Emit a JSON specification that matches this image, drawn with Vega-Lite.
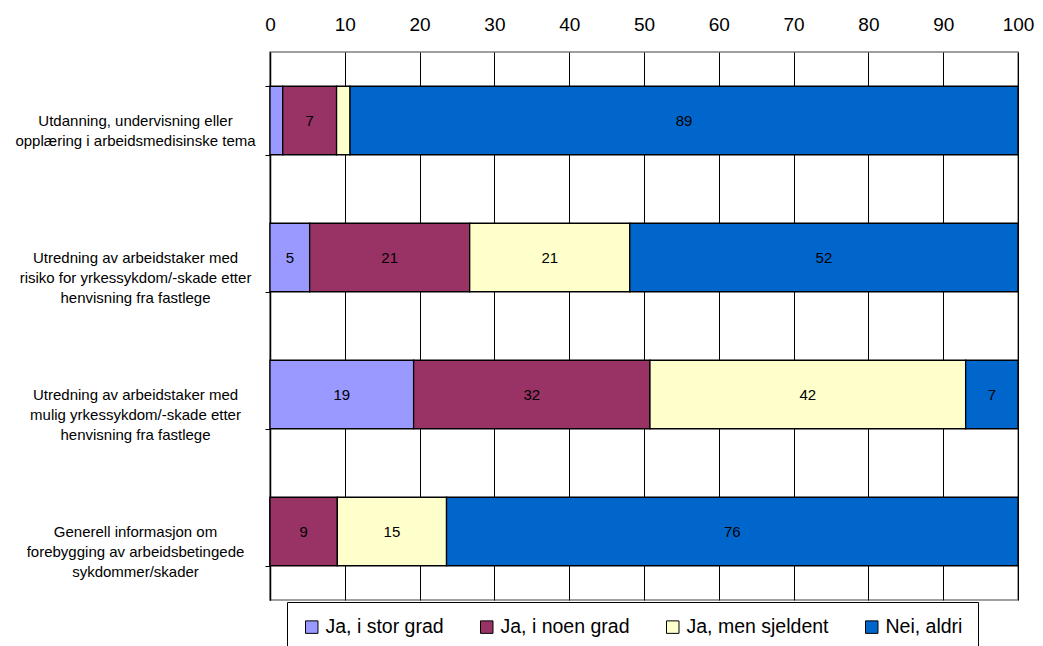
{
  "$schema": "https://vega.github.io/schema/vega-lite/v6.json",
  "autosize": {"type": "none"},
  "width": 748,
  "height": 548,
  "padding": {"left": 270, "top": 52, "right": 25, "bottom": 46},
  "background": "white",
  "config": {
    "font": "Liberation Sans",
    "view": {"stroke": "#808080", "strokeWidth": 1.5}
  },
  "data": {
    "values": [
      {"cat": "Utdanning, undervisning eller|opplæring i arbeidsmedisinske tema", "resp": "Ja, i stor grad", "k": 1, "value": 1.7},
      {"cat": "Utdanning, undervisning eller|opplæring i arbeidsmedisinske tema", "resp": "Ja, i noen grad", "k": 2, "value": 7.2},
      {"cat": "Utdanning, undervisning eller|opplæring i arbeidsmedisinske tema", "resp": "Ja, men sjeldent", "k": 3, "value": 1.8},
      {"cat": "Utdanning, undervisning eller|opplæring i arbeidsmedisinske tema", "resp": "Nei, aldri", "k": 4, "value": 89.3},
      {"cat": "Utredning av arbeidstaker med|risiko for yrkessykdom/-skade etter|henvisning fra fastlege", "resp": "Ja, i stor grad", "k": 1, "value": 5.3},
      {"cat": "Utredning av arbeidstaker med|risiko for yrkessykdom/-skade etter|henvisning fra fastlege", "resp": "Ja, i noen grad", "k": 2, "value": 21.4},
      {"cat": "Utredning av arbeidstaker med|risiko for yrkessykdom/-skade etter|henvisning fra fastlege", "resp": "Ja, men sjeldent", "k": 3, "value": 21.4},
      {"cat": "Utredning av arbeidstaker med|risiko for yrkessykdom/-skade etter|henvisning fra fastlege", "resp": "Nei, aldri", "k": 4, "value": 51.9},
      {"cat": "Utredning av arbeidstaker med|mulig yrkessykdom/-skade etter|henvisning fra fastlege", "resp": "Ja, i stor grad", "k": 1, "value": 19.2},
      {"cat": "Utredning av arbeidstaker med|mulig yrkessykdom/-skade etter|henvisning fra fastlege", "resp": "Ja, i noen grad", "k": 2, "value": 31.6},
      {"cat": "Utredning av arbeidstaker med|mulig yrkessykdom/-skade etter|henvisning fra fastlege", "resp": "Ja, men sjeldent", "k": 3, "value": 42.2},
      {"cat": "Utredning av arbeidstaker med|mulig yrkessykdom/-skade etter|henvisning fra fastlege", "resp": "Nei, aldri", "k": 4, "value": 7.0},
      {"cat": "Generell informasjon om|forebygging av arbeidsbetingede|sykdommer/skader", "resp": "Ja, i stor grad", "k": 1, "value": 0},
      {"cat": "Generell informasjon om|forebygging av arbeidsbetingede|sykdommer/skader", "resp": "Ja, i noen grad", "k": 2, "value": 9.0},
      {"cat": "Generell informasjon om|forebygging av arbeidsbetingede|sykdommer/skader", "resp": "Ja, men sjeldent", "k": 3, "value": 14.6},
      {"cat": "Generell informasjon om|forebygging av arbeidsbetingede|sykdommer/skader", "resp": "Nei, aldri", "k": 4, "value": 76.4}
    ]
  },
  "transform": [
    {"stack": "value", "groupby": ["cat"], "sort": [{"field": "k", "order": "ascending"}], "as": ["v0", "v1"]},
    {"calculate": "(datum.v0 + datum.v1) / 2", "as": "mid"}
  ],
  "encoding": {
    "y": {
      "field": "cat",
      "type": "nominal",
      "sort": null,
      "title": null,
      "scale": {"paddingInner": 0.5, "paddingOuter": 0.25},
      "axis": {
        "labelExpr": "split(datum.label, '|')",
        "labelAlign": "center",
        "labelBaseline": "middle",
        "labelPadding": 130,
        "labelFontSize": 15,
        "labelLineHeight": 20,
        "labelColor": "black",
        "labelLimit": 400,
        "tickBand": "extent",
        "tickSize": 5,
        "tickColor": "black",
        "domainColor": "black",
        "domainWidth": 1.5,
        "grid": false
      }
    }
  },
  "layer": [
    {
      "mark": {"type": "bar", "stroke": "black", "strokeWidth": 1.3},
      "encoding": {
        "x": {
          "field": "v0",
          "type": "quantitative",
          "title": null,
          "scale": {"domain": [0, 100], "nice": false},
          "axis": {
            "orient": "top",
            "values": [0, 10, 20, 30, 40, 50, 60, 70, 80, 90, 100],
            "grid": true,
            "gridColor": "black",
            "gridWidth": 1,
            "gridOpacity": 1,
            "domain": false,
            "ticks": false,
            "labelFontSize": 19,
            "labelPadding": 18,
            "labelColor": "black",
            "labelFlush": false
          }
        },
        "x2": {"field": "v1"},
        "color": {
          "field": "resp",
          "type": "nominal",
          "scale": {
            "domain": ["Ja, i stor grad", "Ja, i noen grad", "Ja, men sjeldent", "Nei, aldri"],
            "range": ["#9999FF", "#993366", "#FFFFCC", "#0066CC"]
          },
          "legend": {
            "title": null,
            "orient": "none",
            "direction": "horizontal",
            "legendX": 17,
            "legendY": 550,
            "padding": 15,
            "strokeColor": "black",
            "fillColor": "white",
            "symbolType": "square",
            "symbolSize": 156,
            "symbolStrokeColor": "black",
            "symbolStrokeWidth": 1,
            "symbolOpacity": 1,
            "labelFont": "Liberation Sans",
            "labelFontSize": 19.5,
            "labelColor": "black",
            "labelOffset": 4,
            "columnPadding": 33,
            "labelLimit": 300
          }
        }
      }
    },
    {
      "transform": [{"filter": "datum.value >= 4"}],
      "mark": {"type": "text", "fontSize": 15, "color": "black", "baseline": "middle", "align": "center"},
      "encoding": {
        "x": {"field": "mid", "type": "quantitative"},
        "text": {"field": "value", "type": "quantitative", "format": ".0f"}
      }
    }
  ]
}
